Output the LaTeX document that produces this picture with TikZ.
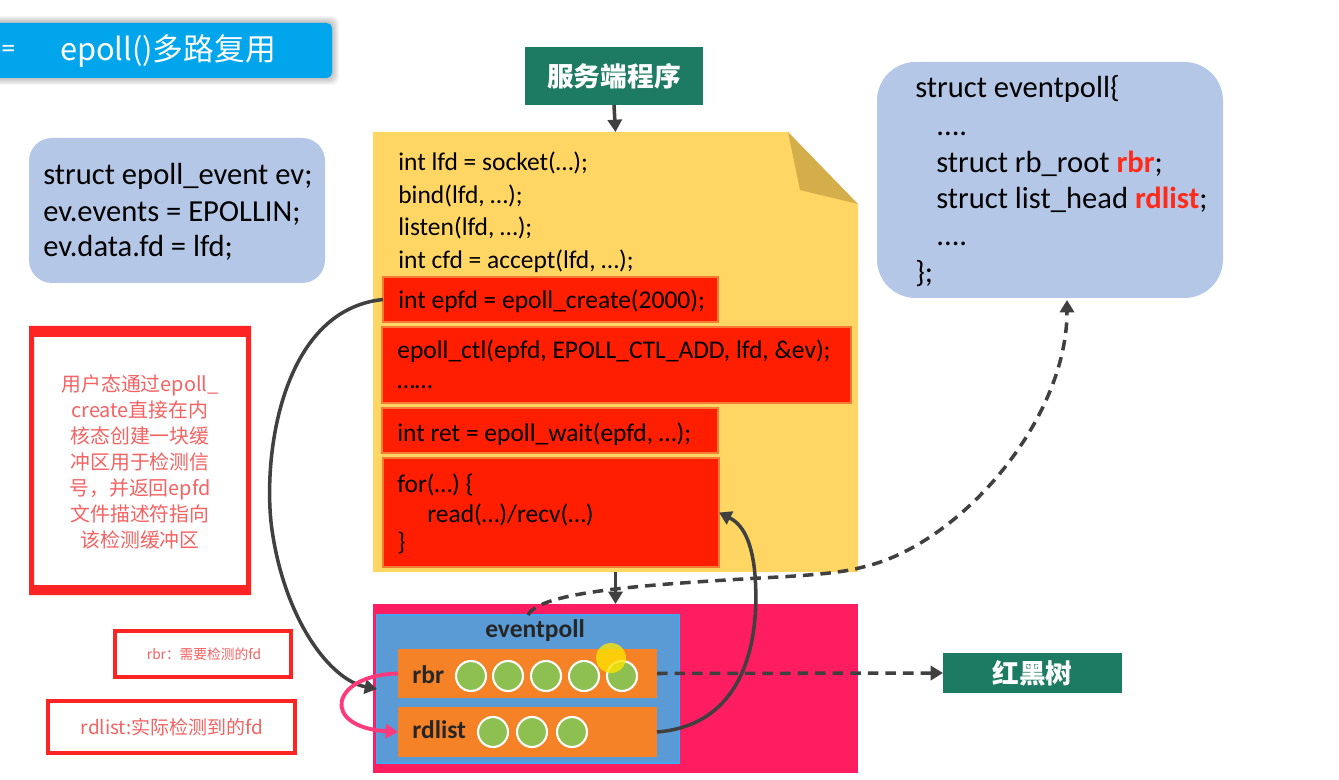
\documentclass[tikz,border=0pt]{standalone}
\usepackage{fontspec}
\setmainfont{Carlito}
\newfontfamily\cjk{Noto Sans CJK SC}
\usetikzlibrary{arrows.meta,fit}
\definecolor{titleblue}{HTML}{00A5EC}
\definecolor{lightblue}{HTML}{B4C7E7}
\definecolor{codeyellow}{HTML}{FFD563}
\definecolor{foldyellow}{HTML}{D4AE4B}
\definecolor{codered}{HTML}{FF1E00}
\definecolor{coderededge}{HTML}{F47B36}
\definecolor{darkgreen}{HTML}{1E7B63}
\definecolor{kernelpink}{HTML}{FF1D62}
\definecolor{epblue}{HTML}{5B9BD5}
\definecolor{epedge}{HTML}{45A6F0}
\definecolor{boxorange}{HTML}{F58226}
\definecolor{ballgreen}{HTML}{8DC050}
\definecolor{arrowgray}{HTML}{404040}
\definecolor{looppink}{HTML}{FF3A7C}
\definecolor{notered}{HTML}{FF2424}
\definecolor{notetext}{HTML}{F46262}
\definecolor{structred}{HTML}{FF2A1A}
\begin{document}
\begin{tikzpicture}[x=0.02cm,y=-0.02cm,
  area/.style={inner sep=0pt,outer sep=0pt},
  redbox/.style={area,fill=codered,draw=coderededge,line width=0.8pt},
  greenbox/.style={area,fill=darkgreen},
  orangebox/.style={area,fill=boxorange},
  ball/.style={circle,fill=ballgreen,draw=white,line width=1.2pt,minimum size=0.6cm,inner sep=0pt},
  code/.style={anchor=base west,inner sep=0pt,font=\fontsize{14.5}{17}\selectfont},
  bigcode/.style={anchor=base west,inner sep=0pt,font=\fontsize{17.4}{20}\selectfont},
  darr/.style={draw=arrowgray,line width=2pt,-{Triangle[width=8pt,length=7pt]}},
  dsh/.style={darr,dash pattern=on 6pt off 4pt},
  parr/.style={draw=looppink,line width=2.2pt,-{Triangle[width=8pt,length=7pt]}},
]
\useasboundingbox (0,0) rectangle (1339,780);
\fill[white] (0,0) rectangle (1339,780);

% ---- title bar ----
\foreach \i in {1,...,7}
  \fill[black,opacity=0.035,rounded corners=4pt] (-20,23-\i) rectangle (332+\i,78+\i);
\node[area,fill=titleblue,rounded corners=3pt,fit={(-20,23) (332,78)}] (title) {};
\node[text=white,font=\cjk\fontsize{17.5}{20}\selectfont] (titletext) at (168,51) {epoll()多路复用};
\node[text=white,font=\fontsize{16}{16}\selectfont,inner sep=0pt,anchor=west] (titlemark) at (1,51) {=};

% ---- struct epoll_event box ----
\node[area,fill=lightblue,rounded corners=13pt,fit={(29,138) (325,283)}] (evbox) {};
\node[bigcode] (ev1) at (43,185) {struct epoll\_event ev;};
\node[bigcode] (ev2) at (43,222) {ev.events = EPOLLIN;};
\node[bigcode] (ev3) at (43,257) {ev.data.fd = lfd;};

% ---- server program ----
\node[greenbox,fit={(525,47) (703,105)}] (server) {};
\node[text=white,font=\cjk\bfseries\fontsize{15.2}{18}\selectfont] (servertext) at (server.center) {服务端程序};

% ---- code page ----
\fill[codeyellow] (373,132) -- (788,132) -- (858,205) -- (858,572) -- (373,572) -- cycle;
\fill[foldyellow] (788,132) -- (800,190) -- (858,204) -- cycle;
\node[area,fit={(373,132) (858,572)}] (prog) {};
\node[code] (c1) at (398,171) {int lfd = socket(…);};
\node[code] (c2) at (398,204) {bind(lfd, …);};
\node[code] (c3) at (398,236) {listen(lfd, …);};
\node[code] (c4) at (398,269) {int cfd = accept(lfd, …);};

\node[redbox,fit={(383,277) (718,322)}] (create) {};
\node[code] (c5) at (398,309) {int epfd = epoll\_create(2000);};
\node[redbox,fit={(382,327) (851,403)}] (ctl) {};
\node[code] (c6) at (397,359) {epoll\_ctl(epfd, EPOLL\_CTL\_ADD, lfd, \&ev);};
\node[code] (c7) at (397,389) {……};
\node[redbox,fit={(382,408) (718,453)}] (wait) {};
\node[code] (c8) at (397,441) {int ret = epoll\_wait(epfd, …);};
\node[redbox,fit={(383,458) (719,567)}] (forbox) {};
\node[code] (c9) at (397,492) {for(…) \{};
\node[code] (c10) at (427,522) {read(…)/recv(…)};
\node[code] (c11) at (397,550) {\}};

% ---- struct eventpoll box ----
\node[area,fill=lightblue,rounded corners=22pt,fit={(877,62) (1223,298)}] (structbox) {};
\node[bigcode] (s1) at (915,98) {struct eventpoll\{};
\node[bigcode] (s2) at (936,136) {....};
\node[bigcode] (s3) at (936,173) {struct rb\_root \textcolor{structred}{\textbf{rbr}};};
\node[bigcode] (s4) at (936,209) {struct list\_head \textcolor{structred}{\textbf{rdlist}};};
\node[bigcode] (s5) at (936,246) {....};
\node[bigcode] (s6) at (915,283) {\};};
\coordinate (sbin) at (1067,300);

% ---- kernel area ----
\node[area,fill=kernelpink,fit={(373,604) (858,773)}] (kernel) {};
\node[area,fill=epblue,draw=epedge,line width=1pt,fit={(377,615) (679,763)}] (ep) {};
\node[anchor=base,inner sep=0pt,font=\bfseries\fontsize{14.5}{17}\selectfont,text=black!85] (eptext) at (535,637) {eventpoll};
\node[orangebox,fit={(398,649) (657,698)}] (rbr) {};
\node[orangebox,fit={(398,707) (657,757)}] (rdlist) {};
\node[anchor=base west,inner sep=0pt,font=\bfseries\fontsize{14.5}{17}\selectfont,text=black!85] (rbrtext) at (412,683) {rbr};
\node[anchor=base west,inner sep=0pt,font=\bfseries\fontsize{14.5}{17}\selectfont,text=black!85] (rdtext) at (412,738) {rdlist};
\foreach \x [count=\i] in {471,508,546,584,622}
  \node[ball] (ra\i) at (\x,676) {};
\foreach \x [count=\i] in {493,532,572}
  \node[ball] (rd\i) at (\x,732) {};
\fill[yellow!85!orange,opacity=0.8] (611,658) circle [radius=15];

% ---- red-black tree ----
\node[greenbox,fit={(943,653) (1122,693)}] (rbtree) {};
\node[text=white,font=\cjk\bfseries\fontsize{15.2}{18}\selectfont] (rbtreetext) at (rbtree.center) {红黑树};

% ---- notes ----
\fill[notered,even odd rule] (29,326) rectangle (251,595) (34,337) rectangle (246,585);
\node[area,fit={(29,326) (251,595)}] (note1) {};
\node[align=center,text=notetext,font=\cjk\fontsize{11.3}{14.8}\selectfont] (note1text) at (140,462)
  {用户态通过epoll\_\\create直接在内\\核态创建一块缓\\冲区用于检测信\\号，并返回epfd\\文件描述符指向\\该检测缓冲区};
\node[area,draw=notered,line width=1.9pt,fit={(115,631) (291,677)}] (note2) {};
\node[text=notetext,font=\cjk\fontsize{7.8}{9}\selectfont] (note2text) at (204,654) {rbr：需要检测的fd};
\node[area,draw=notered,line width=2.2pt,fit={(48,701) (295,753)}] (note3) {};
\node[text=notetext,font=\cjk\fontsize{10.8}{13}\selectfont] (note3text) at (172,727) {rdlist:实际检测到的fd};

% ---- connectors ----
\draw[darr] (server.south) -- (prog.north);
\draw[darr] (prog.south) -- (kernel.north);
\draw[darr] (create.west) .. controls (280,310) and (262,460) .. (272,530)
  .. controls (285,620) and (330,680) .. (ep.west);
\draw[parr] (rbr.west) .. controls (330,675) and (320,727) .. (rdlist.west);
\draw[darr] (rdlist.east) .. controls (745,725) and (760,640) .. (755,575)
  .. controls (752,540) and (742,524) .. (forbox.east);
\draw[dsh] (ep.north) .. controls (540,592) and (640,585) .. (760,578)
  .. controls (820,575) and (845,572) .. (863,567)
  .. controls (960,545) and (1067,420) .. (sbin);
\draw[dsh] (rbr.east) -- (rbtree.west);
\end{tikzpicture}
\end{document}
